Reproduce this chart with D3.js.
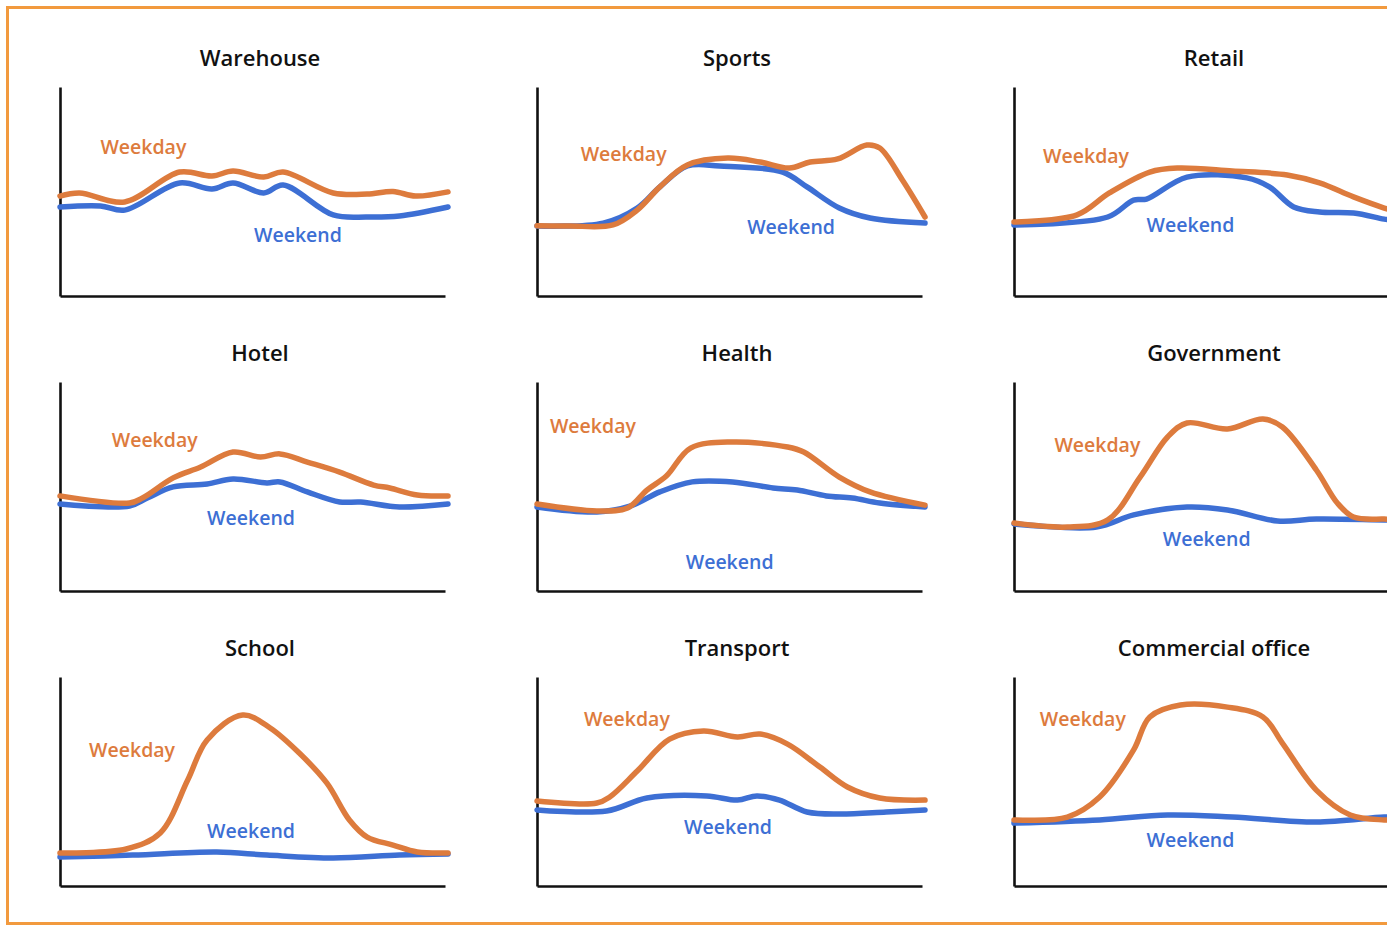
<!DOCTYPE html>
<html>
<head>
<meta charset="utf-8">
<script src="https://cdn.jsdelivr.net/npm/d3@7.9.0/dist/d3.min.js"></script>
<style>
  body { margin: 0; background: #fff; }
  svg { display: block; font-family: "Open Sans", "Noto Sans", sans-serif; }
  .title { font-size: 22px; font-weight: 600; fill: #111; }
  .lbl { font-size: 19.5px; font-weight: 600; }
</style>
</head>
<body>
<svg width="1395" height="926"></svg>
<script>
// hours of day, load in % of panel height
const categories = ["Warehouse", "Sports", "Retail", "Hotel", "Health", "Government", "School", "Transport", "Commercial office"];

const warehouseWeekday = [[0,47.8],[1.2,49.3],[4.0,45.0],[7.4,59.3],[9.4,57.4],[10.7,59.8],[12.6,56.9],[13.8,59.3],[16.9,49.3],[19.0,48.8],[20.6,50.0],[22.0,47.8],[24,49.8]];
const warehouseWeekend = [[0,42.6],[2.5,43.1],[4.0,41.1],[7.4,54.1],[9.4,51.2],[10.7,54.1],[12.6,49.3],[13.8,53.1],[16.9,38.8],[19.0,37.8],[21.0,38.3],[24,42.6]];

const sportsWeekday = [[0,33.6],[2.0,33.5],[4.7,34.0],[6.2,41.1],[7.6,52.2],[9.3,62.7],[11.8,66.0],[13.8,64.1],[15.6,61.2],[16.9,64.1],[18.6,65.6],[20.4,72.2],[21.2,70.8],[22.6,55.5],[24,37.8]];
const sportsWeekend = [[0,33.5],[4.1,34.9],[6.2,42.1],[7.6,52.2],[9.3,62.2],[11.3,62.2],[15.2,59.3],[16.7,52.2],[18.7,42.1],[20.6,37.3],[24,34.9]];

const retailWeekday = [[0,35.4],[3.9,38.8],[5.9,49.3],[8.4,59.3],[10.1,61.2],[13.5,59.8],[16.9,57.9],[18.9,54.1],[21.0,47.4],[22.9,42.1],[24,39.7]];
const retailWeekend = [[0,34.0],[5.8,37.8],[7.4,45.9],[8.2,46.4],[10.7,56.9],[14.4,56.5],[15.8,52.2],[17.3,42.6],[18.9,40.2],[21.0,39.7],[22.9,36.8],[24,35.4]];

const hotelWeekday = [[0,45.5],[4.3,42.1],[5.1,44.5],[7.0,54.1],[8.7,59.3],[10.7,66.5],[12.4,64.1],[13.6,65.6],[15.3,61.7],[17.3,56.9],[19.4,50.7],[20.4,49.3],[22.1,45.9],[24,45.5]];
const hotelWeekend = [[0,41.6],[4.3,40.7],[5.4,44.5],[7.0,49.8],[9.1,51.2],[10.7,53.6],[12.8,51.7],[13.6,52.2],[15.3,47.4],[17.3,42.6],[18.6,42.6],[21.0,40.2],[24,41.6]];

const healthWeekday = [[0,41.6],[3.7,38.3],[5.6,39.7],[6.8,48.3],[8.0,55.0],[9.5,68.4],[12.1,71.3],[15.5,68.9],[16.5,66.5],[18.7,54.5],[20.6,47.4],[24,41.1]];
const healthWeekend = [[0,40.2],[3.7,37.8],[5.8,40.7],[7.6,47.4],[9.6,52.2],[12.1,52.2],[14.6,49.3],[16.1,48.3],[17.9,45.5],[19.5,44.5],[21.2,42.1],[24,40.2]];

const governmentWeekday = [[0,32.5],[3.3,30.6],[5.8,34.0],[7.8,54.5],[9.5,73.7],[10.7,80.4],[13.2,77.5],[15.4,82.3],[16.6,78.5],[18.7,57.9],[20.0,42.1],[21.0,35.4],[22.9,34.4],[24,34.4]];
const governmentWeekend = [[0,32.1],[5.1,30.6],[7.4,36.4],[10.7,40.2],[13.2,38.8],[16.3,33.5],[18.7,34.4],[22.9,34.0],[24,34.0]];

const schoolWeekday = [[0,15.8],[4.1,17.7],[6.2,25.4],[7.9,50.7],[9.1,69.9],[11.3,81.8],[13.0,75.6],[14.8,63.6],[16.5,49.3],[17.9,31.6],[19.0,23.4],[20.6,19.6],[22.1,16.3],[24,15.8]];
const schoolWeekend = [[0,13.9],[4.5,14.8],[9.7,16.3],[12.8,14.8],[16.9,13.4],[21.0,14.8],[24,15.3]];

const transportWeekday = [[0,40.7],[3.7,39.7],[4.5,42.6],[6.2,55.0],[8.2,70.3],[10.3,74.2],[12.4,71.3],[13.8,72.7],[15.5,67.9],[17.5,56.9],[19.2,47.4],[21.2,42.1],[24,41.1]];
const transportWeekend = [[0,36.4],[4.3,35.9],[6.8,42.1],[10.5,43.1],[12.4,41.1],[13.6,43.1],[15.0,41.1],[16.7,35.4],[18.7,34.4],[21.6,35.4],[24,36.4]];

const officeWeekday = [[0,31.6],[3.3,33.0],[5.3,42.6],[7.4,65.1],[8.4,80.9],[10.3,86.6],[13.2,85.6],[15.4,80.9],[16.6,68.4],[18.7,45.9],[20.8,34.0],[22.9,31.6],[24,31.6]];
const officeWeekend = [[0,30.1],[5.3,31.6],[9.5,34.0],[13.5,33.0],[18.7,30.6],[22.9,33.0],[24,33.0]];

const weekdaySeries = [warehouseWeekday, sportsWeekday, retailWeekday, hotelWeekday, healthWeekday, governmentWeekday, schoolWeekday, transportWeekday, officeWeekday];
const weekendSeries = [warehouseWeekend, sportsWeekend, retailWeekend, hotelWeekend, healthWeekend, governmentWeekend, schoolWeekend, transportWeekend, officeWeekend];

// where the series names sit, in [hour, load] of each panel
const weekdayLabelAt = [[2.5,71],[2.7,68],[1.8,67],[3.2,72],[0.8,79],[2.5,70],[1.8,65],[2.9,80],[1.6,80]];
const weekendLabelAt = [[12,29],[13,33],[8.2,34],[9.1,35],[9.2,14],[9.2,25],[9.1,26],[9.1,28],[8.2,22]];

const svg = d3.select("svg");
const orange = "#dd7b3d", blue = "#3d6fd4";

svg.append("clipPath").attr("id", "cut")
  .append("rect").attr("width", 1387).attr("height", 926);
const root = svg.append("g").attr("clip-path", "url(#cut)");

// frame (right edge is cut off in the picture)
root.append("path")
  .attr("d", "M1400,7.5 H7.5 V923.5 H1400")
  .attr("fill", "none").attr("stroke", "#f29a3e").attr("stroke-width", 3);

const colX = [60, 537, 1014], rowY = [87, 382, 677];
const w = 388, h = 209;
const x = d3.scaleLinear().domain([0, 24]).range([0, w]);
const y = d3.scaleLinear().domain([0, 100]).range([h, 0]);

const line = d3.line()
  .x(d => x(d[0])).y(d => y(d[1]))
  .curve(d3.curveCatmullRom.alpha(0.5));

categories.forEach((name, i) => {
  const g = root.append("g")
    .attr("transform", `translate(${colX[i % 3]},${rowY[Math.floor(i / 3)]})`);

  g.append("text").attr("class", "title")
    .attr("x", 200).attr("y", -21)
    .attr("text-anchor", "middle")
    .text(name);

  const xa = g.append("g").attr("transform", `translate(0,${h})`)
    .call(d3.axisBottom(x.copy().range([0, w - 3])).ticks(0).tickSize(0).tickSizeOuter(0));
  const ya = g.append("g")
    .call(d3.axisLeft(y).ticks(0).tickSize(0).tickSizeOuter(0));
  [xa, ya].forEach(a => a.select(".domain").attr("stroke", "#111").attr("stroke-width", 2.6));

  g.append("path").datum(weekendSeries[i])
    .attr("fill", "none").attr("stroke", blue)
    .attr("stroke-width", 5.5).attr("stroke-linecap", "round")
    .attr("d", line);
  g.append("path").datum(weekdaySeries[i])
    .attr("fill", "none").attr("stroke", orange)
    .attr("stroke-width", 5.5).attr("stroke-linecap", "round")
    .attr("d", line);

  g.append("text").attr("class", "lbl").attr("fill", orange)
    .attr("x", x(weekdayLabelAt[i][0])).attr("y", y(weekdayLabelAt[i][1]))
    .attr("dy", "0.35em").text("Weekday");
  g.append("text").attr("class", "lbl").attr("fill", blue)
    .attr("x", x(weekendLabelAt[i][0])).attr("y", y(weekendLabelAt[i][1]))
    .attr("dy", "0.35em").text("Weekend");
});
</script>
</body>
</html>
